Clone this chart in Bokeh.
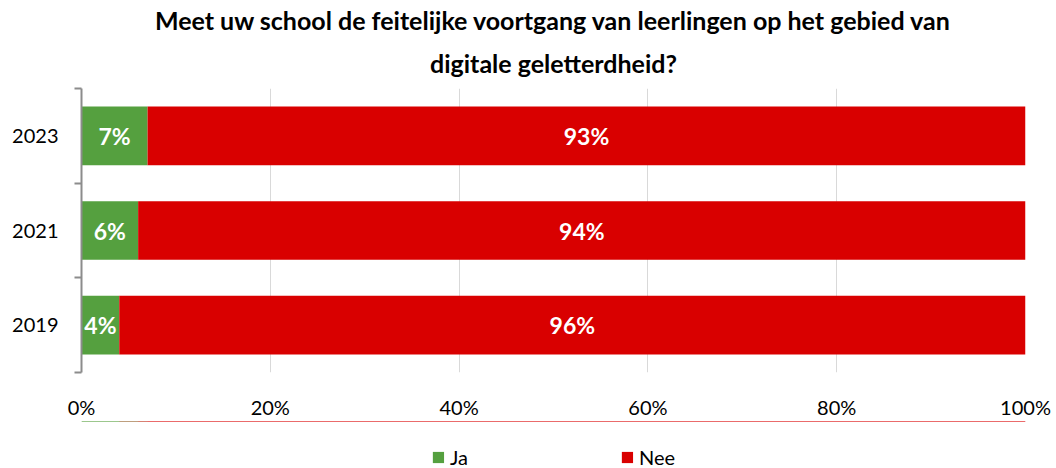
from bokeh.plotting import figure
from bokeh.layouts import column
from bokeh.models import (ColumnDataSource, FixedTicker, LinearAxis, Legend, LegendItem,
                          PrintfTickFormatter, Range1d, Title)
from bokeh.core.properties import value
from bokeh.embed import file_html
from bokeh.resources import INLINE

title_lines = ["Meet uw school de feitelijke voortgang van leerlingen op het gebied van",
               "digitale geletterdheid?"]
years = ["2019", "2021", "2023"]
ja = [4, 6, 7]
nee = [96, 94, 93]
series = ["Ja", "Nee"]
colors = ["#55A03F", "#D90000"]
x_ticks = [0, 20, 40, 60, 80, 100]

FONT = "Lato"

ypos = [i + 0.5 for i in range(len(years))]
source = ColumnDataSource(dict(y=ypos, year=years, Ja=ja, Nee=nee))

p = figure(frame_width=944, frame_height=284, output_backend="svg", toolbar_location=None,
           x_range=Range1d(0, 100), y_range=Range1d(0, len(years)),
           x_axis_location=None, y_axis_location=None,
           min_border_left=81, min_border_right=31, min_border_top=88, min_border_bottom=48)
p.outline_line_color = None
p.title.text = ""

# titles (added bottom line first so it sits closest to the plot)
for i, line in enumerate(reversed(title_lines)):
    t = Title(text=line, align="center", text_font=FONT, text_font_style="bold",
              text_font_size="25px", text_color="#000000",
              standoff=22 if i == 0 else 0)
    p.add_layout(t, "above")

rs = p.hbar_stack(series, y="y", height=0.62, color=colors, line_color=None, source=source)

# labels inside bars
lab_x_ja = [a / 2 for a in ja]
lab_x_nee = [a + b / 2 for a, b in zip(ja, nee)]
p.text(x=lab_x_ja + lab_x_nee, y=ypos + ypos,
       text=[f"{v}%" for v in ja] + [f"{v}%" for v in nee],
       text_font=value(FONT), text_font_style="bold", text_font_size="23px",
       text_color="white", text_align="center", text_baseline="middle")

# x axis
xaxis = LinearAxis(ticker=FixedTicker(ticks=x_ticks), formatter=PrintfTickFormatter(format="%d%%"))
xaxis.axis_line_color = None
xaxis.major_tick_line_color = None
xaxis.major_tick_out = 0
xaxis.major_tick_in = 0
xaxis.minor_tick_line_color = None
xaxis.major_label_text_font = FONT
xaxis.major_label_text_font_size = "20px"
xaxis.major_label_text_color = "#000000"
xaxis.major_label_standoff = 22
p.add_layout(xaxis, "below")

p.xgrid.ticker = FixedTicker(ticks=x_ticks)
p.xgrid.grid_line_color = "#D9D9D9"
p.ygrid.grid_line_color = None

# y axis: labels at category centres, tick marks at category boundaries
yaxis = LinearAxis(ticker=FixedTicker(ticks=ypos, minor_ticks=list(range(len(years) + 1))))
yaxis.major_label_overrides = {y: lab for y, lab in zip(ypos, years)}
yaxis.axis_line_color = "#8C8C8C"
yaxis.axis_line_width = 2
yaxis.major_tick_line_color = None
yaxis.major_tick_out = 0
yaxis.major_tick_in = 0
yaxis.minor_tick_line_color = "#8C8C8C"
yaxis.minor_tick_line_width = 2
yaxis.minor_tick_out = 7
yaxis.minor_tick_in = 0
yaxis.major_label_text_font = FONT
yaxis.major_label_text_font_size = "20px"
yaxis.major_label_text_color = "#000000"
yaxis.major_label_standoff = 16
p.add_layout(yaxis, "left")

# legend strip below the chart (separate small figure; its bars lie outside its view)
leg = figure(frame_width=944, height=48, output_backend="svg", toolbar_location=None,
             x_range=Range1d(0, 100), y_range=Range1d(-10, -9),
             x_axis_location=None, y_axis_location=None,
             min_border_left=81, min_border_right=31, min_border_top=0, min_border_bottom=0)
leg.outline_line_color = None
leg.grid.grid_line_color = None
leg_rs = leg.hbar_stack(series, y="y", height=0.62, color=colors, line_color=None, source=source)
legend = Legend(items=[LegendItem(label=s, renderers=[r]) for s, r in zip(series, leg_rs)],
                orientation="horizontal", location="bottom_center",
                label_text_font=FONT, label_text_font_size="20px", label_text_color="#000000",
                glyph_width=14, glyph_height=14, label_standoff=5, spacing=150,
                padding=0, margin=0, border_line_color=None, background_fill_alpha=0)
leg.add_layout(legend, "center")

layout = column(p, leg, spacing=0)
open("out.html", "w").write(file_html(layout, INLINE))
